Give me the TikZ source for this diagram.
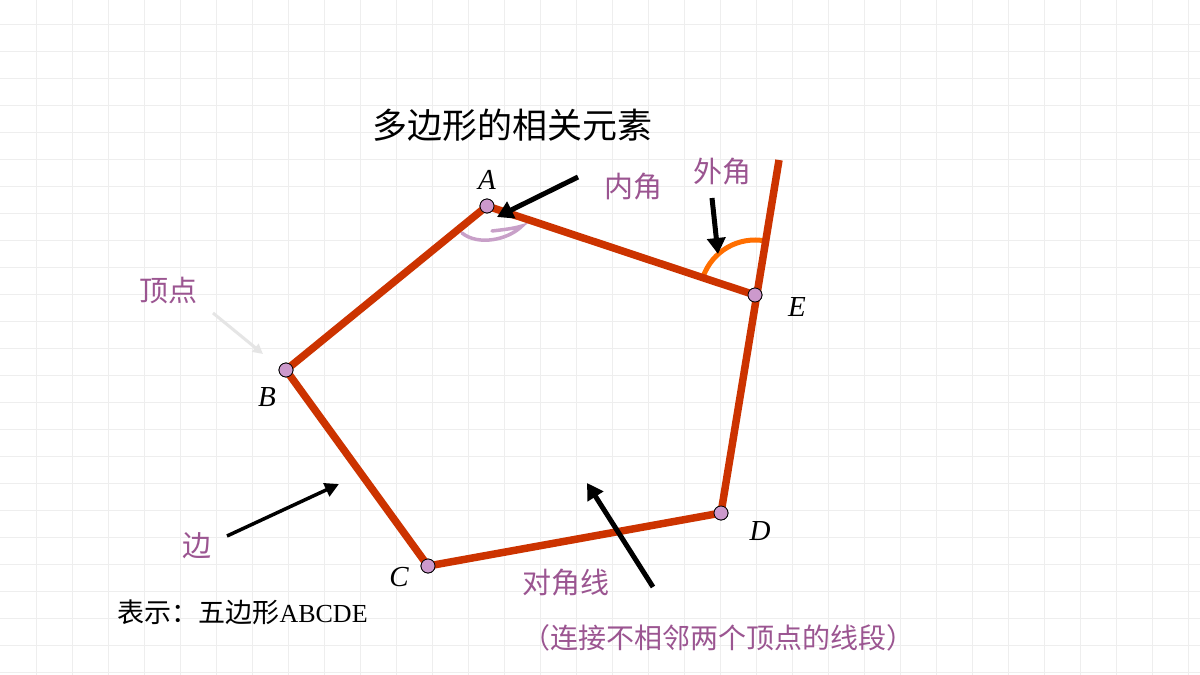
\documentclass[tikz,border=0pt]{standalone}
\usepackage{fontspec}
\setmainfont{Liberation Serif}
\newfontfamily\cjk{Noto Sans CJK SC}
\usetikzlibrary{arrows.meta}
\definecolor{edgered}{RGB}{204,51,0}
\definecolor{vtxpink}{RGB}{204,153,204}
\definecolor{labpurple}{RGB}{155,85,145}
\definecolor{arcorange}{RGB}{255,110,0}
\definecolor{arcpink}{RGB}{200,160,200}
\definecolor{gridgray}{RGB}{238,238,238}
\tikzset{
  edge/.style={draw=edgered, line width=7.5pt, line join=round},
  vtx/.style={circle, draw=black, line width=0.8pt, fill=vtxpink, minimum size=14pt, inner sep=0pt},
  vlab/.style={font=\fontsize{29}{30}\selectfont\itshape},
  plab/.style={text=labpurple, font=\cjk\fontsize{29}{32}\selectfont},
  blackarrow/.style={draw=black, line width=5pt, -{Triangle[length=16pt,width=18pt]}},
  thinarrow/.style={draw=black, line width=3.5pt, -{Triangle[length=14pt,width=14pt]}},
}
\begin{document}
\begin{tikzpicture}[x=1pt,y=-1pt]
\useasboundingbox (0,0) rectangle (1200,675);
\fill[white] (0,0) rectangle (1200,675);
% faint grid
\foreach \gx in {36,72,...,1200} \draw[gridgray, line width=1pt] (\gx,0) -- (\gx,675);
\foreach \gy in {24,51,...,675} \draw[gridgray, line width=1pt] (0,\gy) -- (1200,\gy);

% title
\node[font=\cjk\fontsize{35}{38}\selectfont] (title) at (512,125) {多边形的相关元素};

% vertices
\node[vtx] (A) at (487,206) {};
\node[vtx] (B) at (286,370) {};
\node[vtx] (C) at (428,566) {};
\node[vtx] (D) at (721,513) {};
\node[vtx] (E) at (755,295) {};
\coordinate (Etop) at (779,160);

% interior angle mark at A
\draw[arcpink, line width=3.5pt, line cap=round]
  (462,233) .. controls (478,246) and (508,240) .. (522,226)
  .. controls (512,229) and (500,230) .. (492,231);

% exterior angle arc at E
\draw[arcorange, line width=5pt] ([shift={(-161:55)}]E.center) arc[start angle=-161, end angle=-79, radius=55];

% edges
\draw[edge] (E.center) -- (A.center) -- (B.center) -- (C.center) -- (D.center);
\draw[edge] (D.center) -- (Etop);

% redraw vertex dots on top
\foreach \v in {A,B,C,D,E} \node[vtx] at (\v) {};

% vertex labels
\node[vlab] (lA) at (487,180) {A};
\node[vlab] (lB) at (267,397) {B};
\node[vlab] (lC) at (399,577) {C};
\node[vlab] (lD) at (760,531) {D};
\node[vlab] (lE) at (797,307) {E};

% annotations
\node[plab] (nei) at (633,187) {内角};
\coordinate (neiS) at (578,177);
\coordinate (neiT) at (497,217);
\draw[blackarrow] (neiS) -- (neiT);

\node[plab] (wai) at (722,172) {外角};
\coordinate (waiS) at (712,198);
\coordinate (waiT) at (718,254);
\draw[blackarrow] (waiS) -- (waiT);

\node[plab] (ding) at (168,291) {顶点};
\coordinate (dingS) at (213,313);
\coordinate (dingT) at (263,354);
\draw[draw=gray!20, line width=3pt, -{Triangle[length=10pt,width=10pt]}] (dingS) -- (dingT);

\node[plab] (bian) at (197,546) {边};
\coordinate (bianS) at (227,536);
\coordinate (bianT) at (339,484);
\draw[thinarrow] (bianS) -- (bianT);

\node[plab] (diag) at (566,583) {对角线};
\coordinate (diagS) at (653,587);
\coordinate (diagT) at (587,483);
\draw[blackarrow] (diagS) -- (diagT);

\node[plab, font=\cjk\fontsize{28}{30}\selectfont] (note) at (718,638) {（连接不相邻两个顶点的线段）};

\node[font=\cjk\fontsize{27}{30}\selectfont, anchor=west] (rep) at (114,612) {表示：五边形{\rmfamily\fontsize{26}{30}\selectfont ABCDE}};
\end{tikzpicture}
\end{document}
